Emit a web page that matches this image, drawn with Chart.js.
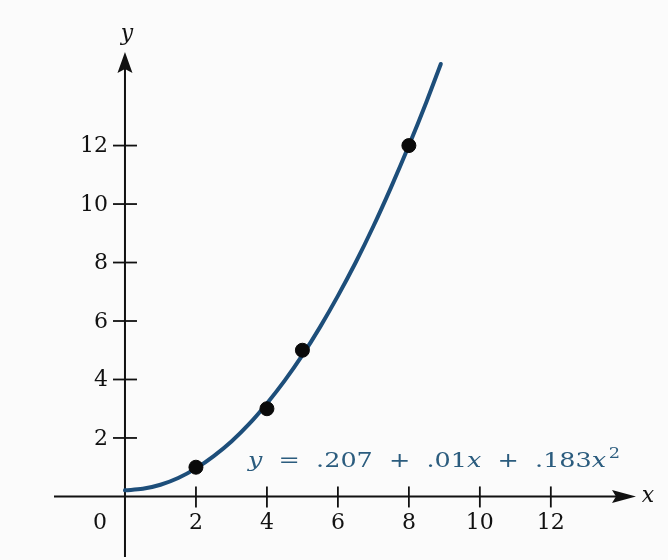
<!DOCTYPE html>
<html>
<head>
<meta charset="utf-8">
<script src="https://cdn.jsdelivr.net/npm/chart.js@4/dist/chart.umd.min.js"></script>
<style>
html,body{margin:0;padding:0;background:#fbfbfb;}
#wrap{width:668px;height:560px;position:relative;}
</style>
</head>
<body>
<div id="wrap"><canvas id="c"></canvas></div>
<script>
// Data
const pointX = [2, 4, 5, 8];
const pointY = [1, 3, 5, 12];
const curveX = [0, 0.5, 1, 1.5, 2, 2.5, 3, 3.5, 4, 4.5, 5, 5.5, 6, 6.5, 7, 7.5, 8, 8.5, 8.9];
const curveY = [0.21, 0.26, 0.40, 0.63, 0.96, 1.38, 1.88, 2.48, 3.18, 3.96, 4.83, 5.80, 6.86, 8.00, 9.24, 10.58, 12.00, 13.51, 14.79];
const xTickLabels = [2, 4, 6, 8, 10, 12];
const yTickLabels = [2, 4, 6, 8, 10, 12];
const xRange = [-2, 14.4];
const yRange = [-1.9, 15.2];

const curveColor = '#1d4e7a';
const textColor = '#2b5c7e';
const serif = '"DejaVu Serif", "Liberation Serif", serif';

const axesPlugin = {
  id: 'axesPlugin',
  beforeDraw(chart) {
    const ctx = chart.ctx;
    ctx.save();
    ctx.fillStyle = '#fbfbfb';
    ctx.fillRect(0, 0, chart.width, chart.height);
    ctx.restore();
  },
  beforeDatasetsDraw(chart) {
    const ctx = chart.ctx;
    const xs = chart.scales.x, ys = chart.scales.y;
    const ox = xs.getPixelForValue(0), oy = ys.getPixelForValue(0);
    const x0 = xs.getPixelForValue(xRange[0]), x1 = xs.getPixelForValue(xRange[1]);
    const y0 = ys.getPixelForValue(yRange[0]), y1 = ys.getPixelForValue(yRange[1]);
    ctx.save();
    ctx.strokeStyle = '#111';
    ctx.fillStyle = '#111';
    ctx.lineWidth = 2;
    // x axis
    ctx.beginPath(); ctx.moveTo(x0, oy); ctx.lineTo(x1 - 10, oy); ctx.stroke();
    ctx.beginPath(); ctx.moveTo(x1, oy); ctx.lineTo(x1 - 24, oy - 6.5); ctx.lineTo(x1 - 20, oy); ctx.lineTo(x1 - 24, oy + 6.5); ctx.closePath(); ctx.fill();
    // y axis
    ctx.beginPath(); ctx.moveTo(ox, y0 + 5); ctx.lineTo(ox, y1 + 10); ctx.stroke();
    ctx.beginPath(); ctx.moveTo(ox, y1); ctx.lineTo(ox - 7.5, y1 + 21); ctx.lineTo(ox, y1 + 17); ctx.lineTo(ox + 7.5, y1 + 21); ctx.closePath(); ctx.fill();
    // ticks
    ctx.lineWidth = 1.8;
    ctx.font = '22px ' + serif;
    ctx.textBaseline = 'middle';
    xTickLabels.forEach(v => {
      const px = xs.getPixelForValue(v);
      ctx.beginPath(); ctx.moveTo(px, oy - 10); ctx.lineTo(px, oy + 11); ctx.stroke();
      ctx.textAlign = 'center';
      ctx.fillText(String(v), px, oy + 27);
    });
    yTickLabels.forEach(v => {
      const py = ys.getPixelForValue(v);
      ctx.beginPath(); ctx.moveTo(ox - 12, py); ctx.lineTo(ox + 12, py); ctx.stroke();
      ctx.textAlign = 'right';
      ctx.fillText(String(v), ox - 17, py + 1);
    });
    ctx.textAlign = 'center';
    ctx.fillText('0', ox - 25, oy + 27);
    // axis names
    ctx.font = 'italic 22px ' + serif;
    ctx.fillText('y', ox + 2, y1 - 18);
    ctx.fillText('x', x1 + 12, oy);
    // equation
    const parts = [
      ['y', true], ['  =  .207  +  .01', false], ['x', true], ['  +  .183', false], ['x', true]
    ];
    ctx.font = '20px ' + serif;
    let total = 0;
    const widths = parts.map(p => {
      ctx.font = (p[1] ? 'italic ' : '') + '20px ' + serif;
      const w = ctx.measureText(p[0]).width; total += w; return w;
    });
    ctx.font = '14px ' + serif;
    const supW = ctx.measureText('2').width + 2;
    total += supW;
    const targetW = 372;
    const startX = 248, baseY = 467;
    ctx.translate(startX, baseY);
    ctx.scale(targetW / total, 1);
    ctx.fillStyle = textColor;
    ctx.textAlign = 'left';
    ctx.textBaseline = 'alphabetic';
    let cx = 0;
    parts.forEach((p, i) => {
      ctx.font = (p[1] ? 'italic ' : '') + '20px ' + serif;
      ctx.fillText(p[0], cx, 0);
      cx += widths[i];
    });
    ctx.font = '14px ' + serif;
    ctx.fillText('2', cx + 2, -9);
    ctx.restore();
  }
};

const curve = curveX.map((x, i) => ({x: x, y: curveY[i]}));
const pts = pointX.map((x, i) => ({x: x, y: pointY[i]}));

new Chart(document.getElementById('c'), {
  type: 'scatter',
  data: {
    datasets: [
      { label: 'data', data: pts, pointRadius: 7, pointHoverRadius: 7, backgroundColor: '#0a0a0a', borderColor: '#0a0a0a', showLine: false },
      { label: 'fit', data: curve, showLine: true, pointRadius: 0, borderColor: curveColor, borderWidth: 4, cubicInterpolationMode: 'monotone', borderCapStyle: 'round', fill: false, clip: false }
    ]
  },
  options: {
    responsive: true,
    maintainAspectRatio: false,
    animation: false,
    events: [],
    layout: { padding: { left: 54, right: 32, top: 52, bottom: 2 } },
    plugins: { legend: { display: false }, tooltip: { enabled: false }, title: { display: false } },
    scales: {
      x: { type: 'linear', min: xRange[0], max: xRange[1], display: false },
      y: { type: 'linear', min: yRange[0], max: yRange[1], display: false }
    }
  },
  plugins: [axesPlugin]
});
</script>
</body>
</html>
